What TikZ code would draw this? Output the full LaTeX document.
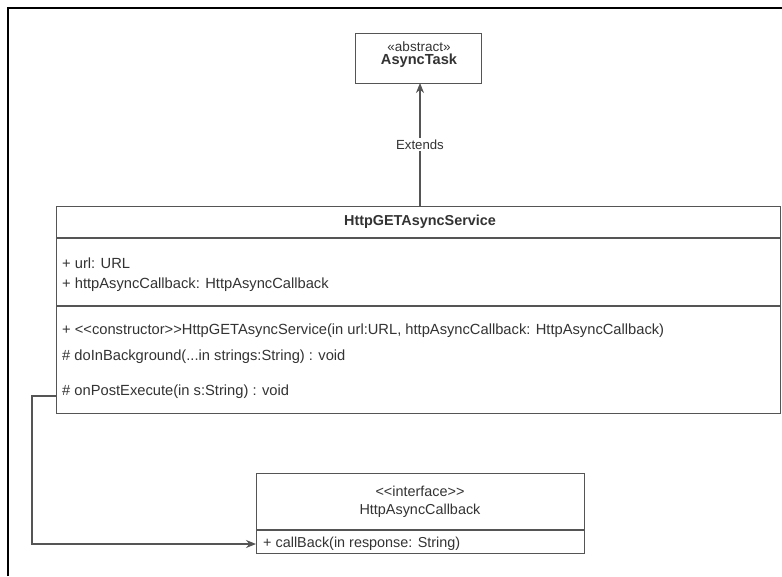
\documentclass[tikz,border=0pt]{standalone}
\usepackage{fontspec}
\setmainfont{Liberation Sans}
\usetikzlibrary{arrows.meta}
\definecolor{ln}{HTML}{555555}
\definecolor{tx}{HTML}{333333}
\begin{document}
\begin{tikzpicture}[x=1pt,y=-1pt,
  box/.style={draw=ln, line width=1.2pt, fill=white, anchor=north west, inner sep=0pt},
  attr/.style={anchor=west, text=tx, inner sep=0pt, font=\fontsize{14.7}{17}\selectfont},
  iattr/.style={anchor=west, text=tx, inner sep=0pt, font=\fontsize{14.4}{17}\selectfont},
  conn/.style={draw=ln, line width=1.2pt, -{Stealth[length=10pt,width=8pt]}},
  sep/.style={draw=ln, line width=1.2pt}]
\useasboundingbox (0,0) rectangle (782,576);
\fill[white] (0,0) rectangle (782,576);
% frame
\draw[black, line width=2pt] (8,576) -- (8,8) -- (782,8);
% AsyncTask
\node[box, minimum width=126pt, minimum height=50pt] (async) at (355,33) {};
\node[text=tx, align=center, inner sep=0pt] (asynct) at (419,55)
  {{\fontsize{13.5}{15}\selectfont «abstract»}\\[1pt]{\fontsize{14.6}{16}\selectfont\bfseries AsyncTask}};
% main class
\node[box, minimum width=724pt, minimum height=207pt] (svc) at (56,206) {};
\draw[sep] (56,238) -- (780,238);
\draw[sep] (56,306) -- (780,306);
\node[text=tx, inner sep=0pt, font=\fontsize{14.4}{16}\selectfont\bfseries] (svct) at (420,222) {HttpGETAsyncService};
\node[attr] (a1) at (62,263) {+ url: URL};
\node[attr] (a2) at (62,285) {+ httpAsyncCallback: HttpAsyncCallback};
\node[attr] (m1) at (62,331) {+ <{}<constructor>{}>HttpGETAsyncService(in url:URL, httpAsyncCallback: HttpAsyncCallback)};
\node[attr] (m2) at (62,357) {\# doInBackground(...in strings:String) : void};
\node[attr] (m3) at (62,392) {\# onPostExecute(in s:String) : void};
% interface
\node[box, minimum width=328pt, minimum height=80pt] (iface) at (256,473) {};
\draw[sep] (256,530) -- (584,530);
\node[text=tx, align=center, inner sep=0pt, font=\fontsize{14.4}{18}\selectfont] (ifacet) at (420,502) {<{}<interface>{}>\\HttpAsyncCallback};
\node[iattr] (cb) at (263,544) {+ callBack(in response: String)};
% connectors
\coordinate (bend) at (32,396);
\draw[conn] (svc.west |- bend) -- (bend) |- (iface.west |- cb);
\draw[conn] (420,206) -- (420,83) node[pos=0.5, fill=white, text=tx, inner sep=2pt, font=\fontsize{13.2}{15}\selectfont] (ext) {Extends};
\end{tikzpicture}
\end{document}
